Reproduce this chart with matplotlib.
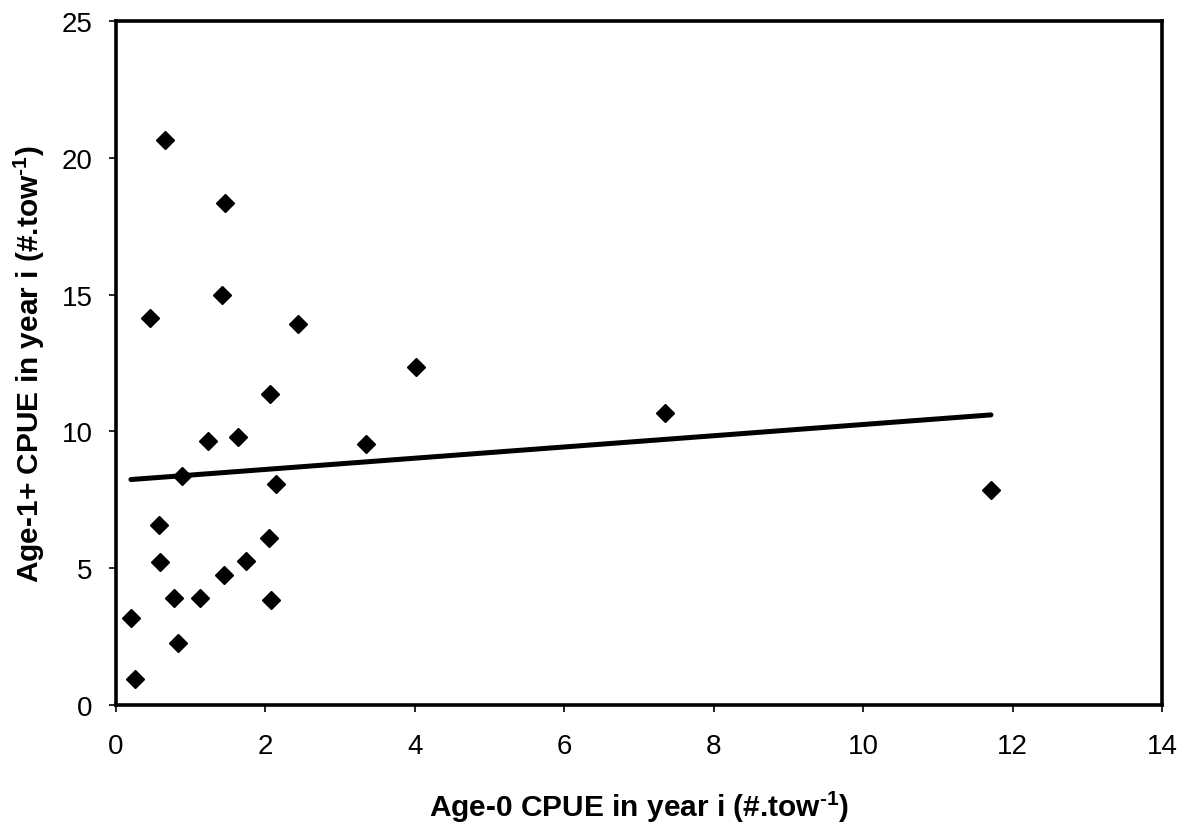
import numpy as np
import matplotlib
matplotlib.use("Agg")
import matplotlib.pyplot as plt

plt.rcParams["font.family"] = ["Liberation Sans", "DejaVu Sans"]
plt.rcParams["mathtext.fontset"] = "custom"
plt.rcParams["mathtext.rm"] = "Liberation Sans:bold"
plt.rcParams["mathtext.bf"] = "Liberation Sans:bold"

# Age-0 CPUE in year i and Age-1+ CPUE in year i (#.tow^-1)
age0_cpue = [0.20, 0.26, 0.57, 0.59, 0.77, 0.83, 1.13, 0.89, 1.23, 1.63,
             1.44, 1.74, 2.05, 2.07, 2.14, 3.34, 2.06, 0.65, 1.46, 1.42,
             0.46, 2.43, 4.01, 7.35, 11.71]
age1_cpue = [3.19, 0.95, 6.58, 5.24, 3.91, 2.27, 3.91, 8.36, 9.64, 9.80,
             4.76, 5.25, 6.09, 3.85, 8.07, 9.53, 11.37, 20.66, 18.34, 15.00,
             14.16, 13.94, 12.34, 10.67, 7.87]

x_ticks = [0, 2, 4, 6, 8, 10, 12, 14]
y_ticks = [0, 5, 10, 15, 20, 25]

fig = plt.figure(figsize=(11.86, 8.29), dpi=100)
ax = fig.add_axes([0.0978, 0.1484, 0.882, 0.825])

x = np.array(age0_cpue)
y = np.array(age1_cpue)

ax.plot(x, y, linestyle="none", marker="D", markersize=9,
        color="black", zorder=3)

# least-squares trend line across the observed range
slope, intercept = np.polyfit(x, y, 1)
xl = np.array([x.min(), x.max()])
ax.plot(xl, intercept + slope * xl, color="black", linewidth=3.6,
        solid_capstyle="round", zorder=2)

ax.set_xlim(0, 14)
ax.set_ylim(0, 25)
ax.set_xticks(x_ticks)
ax.set_yticks(y_ticks)
ax.tick_params(direction="out", length=5, width=1.2, labelsize=20,
               top=False, right=False)
ax.tick_params(axis="x", pad=15)
ax.tick_params(axis="y", pad=12)
for s in ax.spines.values():
    s.set_linewidth(2.6)

ax.set_xlabel("Age-0 CPUE in year i (#.tow$^{\\text{-1}}$)",
              fontsize=21.5, fontweight="bold")
ax.set_ylabel("Age-1+ CPUE in year i (#.tow$^{\\text{-1}}$)",
              fontsize=21.5, fontweight="bold")
ax.xaxis.set_label_coords(0.5, -0.122)
ax.yaxis.set_label_coords(-0.066, 0.5)

fig.savefig("out.png", dpi=100)
